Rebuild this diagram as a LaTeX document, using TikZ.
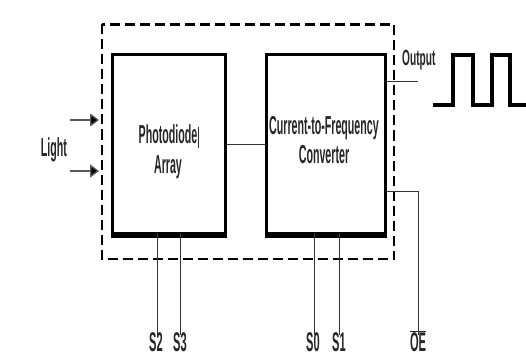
\documentclass[tikz,border=0pt]{standalone}
\usepackage{fontspec}
\setmainfont{Liberation Sans}
\newfontfamily\narrowfont[FakeStretch=0.41]{Liberation Sans Bold}
\newfontfamily\outfont[FakeStretch=0.46]{Liberation Sans Bold}
\usetikzlibrary{arrows.meta}
\begin{document}
\begin{tikzpicture}[x=1pt,y=-1pt,
  blockbox/.style={draw,line width=3pt,minimum width=#1,minimum height=178pt,inner sep=0pt},
  boxtext/.style={font=\narrowfont\fontsize{26}{26}\selectfont,inner sep=0pt,anchor=base,text=black!85},
  pinlabel/.style={font=\narrowfont\fontsize{27}{27}\selectfont,inner sep=0pt,anchor=base,text=black!85},
  thinline/.style={line width=1pt,draw=black!80},
  lightarrow/.style={line width=1.3pt,draw=black!65,-{Triangle[length=9pt,width=13pt,fill=black]}},
  wave/.style={line width=4.5pt,miter limit=10}
]
\useasboundingbox[fill=white] (0,0) rectangle (526,358);
% dashed enclosure
\draw[line width=2.5pt,dash pattern=on 10pt off 5pt] (102,24.5) rectangle (394,259);
% blocks
\node[blockbox=113pt] (pd) at (168.5,144) {};
\node[blockbox=119pt] (cf) at (325.5,144) {};
\draw[line width=5pt] ([yshift=-1pt]pd.south west) -- ([yshift=-1pt]pd.south east);
\draw[line width=5pt] ([yshift=-1pt]cf.south west) -- ([yshift=-1pt]cf.south east);
% block texts
\node[boxtext] (pdt1) at (168,143) {Photodiode};
\coordinate (bar1) at (198.5,127);
\coordinate (bar2) at (198.5,148);
\draw[line width=1pt,black!80] (bar1) -- (bar2);
\node[boxtext] (pdt2) at (168,173) {Array};
\node[boxtext] (cft1) at (324,135) {Current-to-Frequency};
\node[boxtext] (cft2) at (324,163) {Converter};
% internal connector
\draw[thinline] (pd.east) -- (cf.west);
% light inputs
\node[boxtext] (light) at (54,156) {Light};
\coordinate (a1s) at (70,120);
\coordinate (a1e) at (99,120);
\coordinate (a2s) at (70,171);
\coordinate (a2e) at (99,171);
\draw[lightarrow] (a1s) -- (a1e);
\draw[lightarrow] (a2s) -- (a2e);
% output
\coordinate (outst) at (cf.east |- 0,81.5);
\coordinate (outend) at (418,81.5);
\draw[thinline] (outst) -- (outend);
\node[boxtext,anchor=base west,font=\outfont\fontsize{22}{22}\selectfont] (outlbl) at (402,66) {Output};
% waveform
\coordinate (w0) at (433,105);
\draw[wave] (w0) -- (453,105) -- (453,55) -- (473,55) -- (473,105) -- (492,105) -- (492,55) -- (510,55) -- (510,105) -- (527,105);
% OE
\coordinate (oest) at (cf.east |- 0,191);
\coordinate (oecorner) at (418,191);
\coordinate (oeend) at (418,335);
\draw[thinline] (oest) -- (oecorner) -- (oeend);
\node[pinlabel] (oelbl) at (418,351) {$\overline{\mbox{OE}}$};
% select pins
\coordinate (s2t) at (157,233);
\coordinate (s2b) at (157,335);
\coordinate (s3t) at (180,233);
\coordinate (s3b) at (180,335);
\coordinate (s0t) at (314,233);
\coordinate (s0b) at (314,335);
\coordinate (s1t) at (339,233);
\coordinate (s1b) at (339,335);
\draw[thinline] (s2t) -- (s2b);
\draw[thinline] (s3t) -- (s3b);
\draw[thinline] (s0t) -- (s0b);
\draw[thinline] (s1t) -- (s1b);
\node[pinlabel] (s2l) at (156,351) {S2};
\node[pinlabel] (s3l) at (180,351) {S3};
\node[pinlabel] (s0l) at (313,351) {S0};
\node[pinlabel] (s1l) at (339,351) {S1};
\end{tikzpicture}
\end{document}
